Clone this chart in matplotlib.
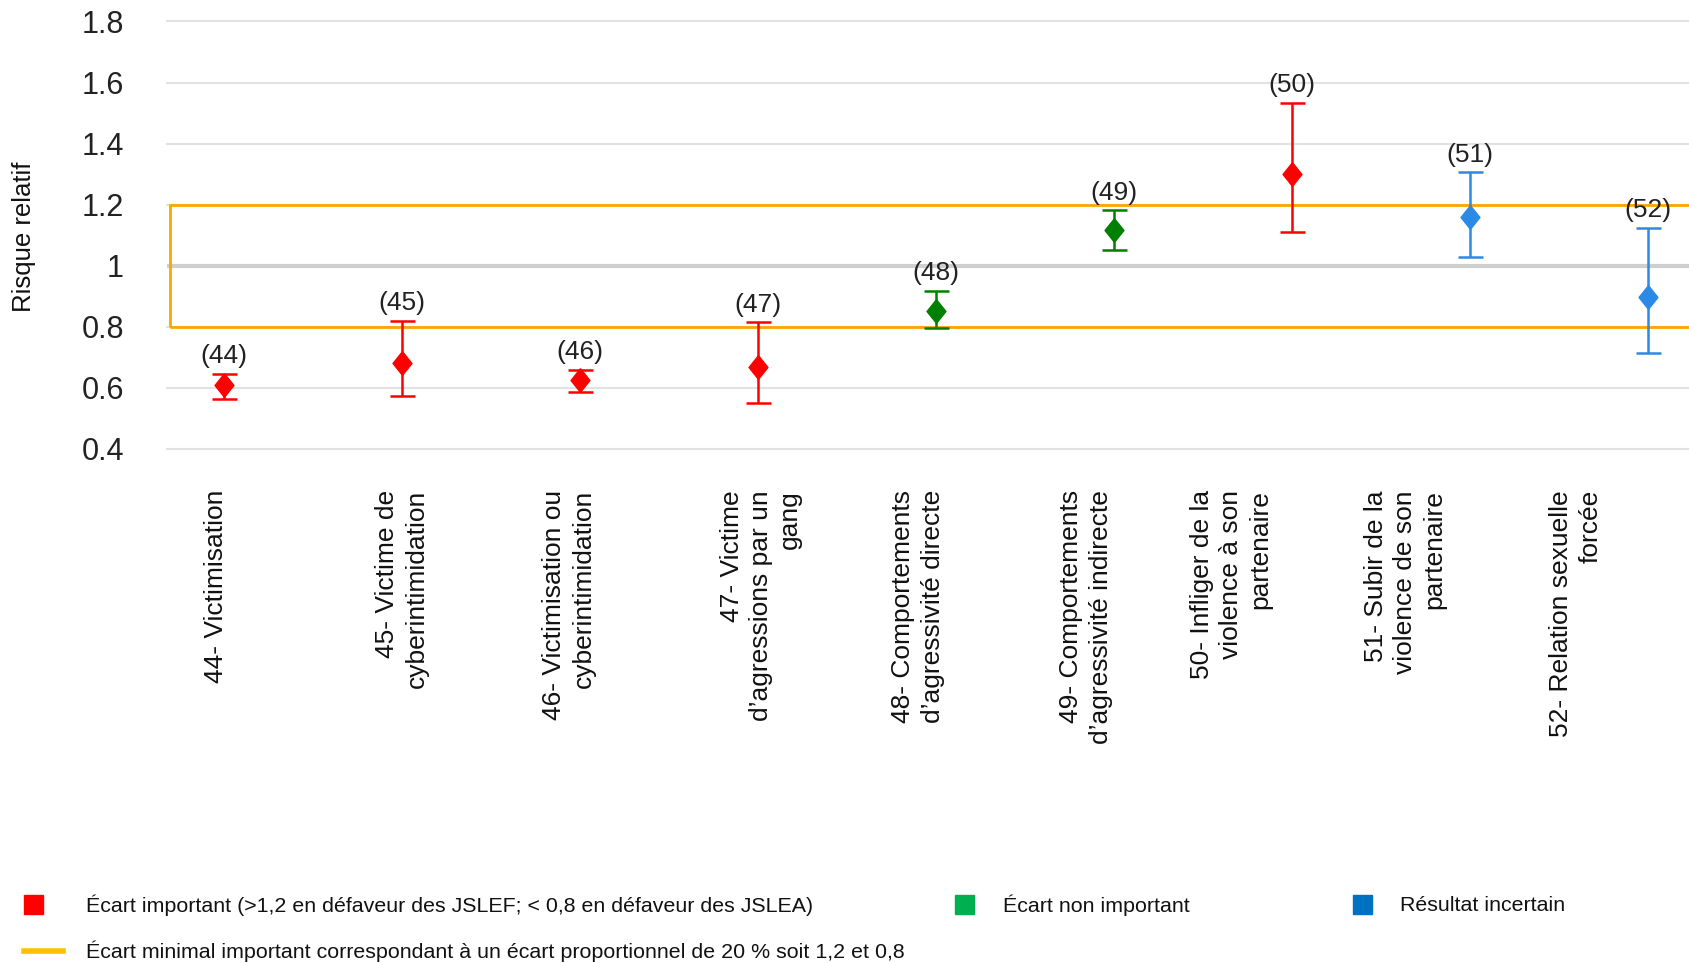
import numpy as np
import matplotlib
matplotlib.use("Agg")
import matplotlib.pyplot as plt
from matplotlib import font_manager
from matplotlib.patches import Rectangle

# Relative risk per indicator with 95 % confidence bounds
codes = ["44", "45", "46", "47", "48", "49", "50", "51", "52"]
labels = [
    "44- Victimisation",
    "45- Victime de\ncyberintimidation",
    "46- Victimisation ou\ncyberintimidation",
    "47- Victime\nd’agressions par un\ngang",
    "48- Comportements\nd’agressivité directe",
    "49- Comportements\nd’agressivité indirecte",
    "50- Infliger de la\nviolence à son\npartenaire",
    "51- Subir de la\nviolence de son\npartenaire",
    "52- Relation sexuelle\nforcée",
]
rr = [0.61, 0.68, 0.625, 0.67, 0.852, 1.117, 1.30, 1.16, 0.897]
ci_low = [0.565, 0.574, 0.588, 0.552, 0.795, 1.051, 1.11, 1.028, 0.714]
ci_high = [0.647, 0.82, 0.66, 0.815, 0.918, 1.182, 1.534, 1.306, 1.124]
status = ["important", "important", "important", "important", "non",
          "non", "important", "incertain", "incertain"]

yticks = [0.4, 0.6, 0.8, 1.0, 1.2, 1.4, 1.6, 1.8]
ytick_labels = ["0.4", "0.6", "0.8", "1", "1.2", "1.4", "1.6", "1.8"]
threshold_low, threshold_high = 0.8, 1.2

legend_items = [
    ("Écart important (>1,2 en défaveur des JSLEF; < 0,8 en défaveur des JSLEA)", "#ff0000"),
    ("Écart non important", "#00b050"),
    ("Résultat incertain", "#0070c0"),
]
legend_line = ("Écart minimal important correspondant à un écart proportionnel de 20 % soit 1,2 et 0,8", "#ffc000")

point_colors = {"important": "#ff0000", "non": "#008000", "incertain": "#2a8ae6"}

# fonts
available = {f.name for f in font_manager.fontManager.ttflist}
base_font = "Liberation Sans" if "Liberation Sans" in available else "DejaVu Sans"
narrow_font = "Liberation Sans Narrow" if "Liberation Sans Narrow" in available else base_font
plt.rcParams["font.family"] = base_font

W, H = 1690, 963
fig = plt.figure(figsize=(W / 100, H / 100), dpi=100)


def fx(x):
    return x / W


def fy(y):
    return 1 - y / H


# rounded-looking diamond, a bit taller than wide
diamond = [(0, 1), (0.8, 0), (0, -1), (-0.8, 0), (0, 1)]

# plot area: 0.4 at y=449 px, 1.8 at y=21.5 px
ax = fig.add_axes([fx(167), fy(449), 1 - fx(167), (449 - 21.5) / H])
ax.set_ylim(0.4, 1.8)
ax.set_xlim(-0.321, 8.235)

for t in yticks:
    if t == 1.0:
        ax.axhline(t, color="#cfcfcf", lw=3, zorder=1)
    else:
        ax.axhline(t, color="#e2e2e2", lw=1.5, zorder=1, clip_on=False)

ax.add_patch(Rectangle((-0.304, threshold_low), 20, threshold_high - threshold_low,
                       fill=False, edgecolor="#ffa500", lw=2, zorder=2))

x = np.arange(len(codes))
for i in range(len(codes)):
    c = point_colors[status[i]]
    ax.errorbar(x[i], rr[i], yerr=[[rr[i] - ci_low[i]], [ci_high[i] - rr[i]]],
                fmt="none", ecolor=c, capsize=9, elinewidth=1.8, capthick=1.8,
                zorder=3, clip_on=False)
    ax.plot(x[i], rr[i], marker=diamond, ms=17, color=c, ls="none", zorder=4,
            clip_on=False)
    ax.annotate(f"({codes[i]})", (x[i], ci_high[i]), xytext=(0, 4),
                textcoords="offset points", ha="center", va="bottom",
                fontsize=19, family=narrow_font, color="#222222")

ax.set_yticks(yticks)
ax.set_yticklabels(ytick_labels, fontsize=22, family=narrow_font, color="#222222")
ax.tick_params(axis="y", length=0, pad=31)
ax.set_xticks([])
for s in ax.spines.values():
    s.set_visible(False)

fig.text(fx(24), fy(237), "Risque relatif", rotation=90, ha="center", va="center",
         fontsize=18.5, color="#111111")

# category labels below the plot, rotated
label_x = [216, 402, 569, 761, 918, 1086, 1231, 1405, 1576]
for lx, lab in zip(label_x, labels):
    fig.text(fx(lx), fy(490), lab, rotation=90, ha="center", va="top",
             multialignment="right", fontsize=19, linespacing=1.28, color="#111111")

# legend
sq_x = [24, 955, 1353]
txt_x = [86, 1003, 1400]
for (txt, col), sx, tx in zip(legend_items, sq_x, txt_x):
    fig.patches.append(Rectangle((fx(sx), fy(914)), 19 / W, 19 / H, color=col,
                                 transform=fig.transFigure, figure=fig))
    fig.text(fx(tx), fy(905), txt, ha="left", va="center", fontsize=15.4,
             family=narrow_font, color="#111111")

fig.lines.append(plt.Line2D([fx(24), fx(63)], [fy(951), fy(951)], color=legend_line[1],
                            lw=4, transform=fig.transFigure, figure=fig))
fig.text(fx(86), fy(951), legend_line[0], ha="left", va="center", fontsize=15.4,
         family=narrow_font, color="#111111")

fig.savefig("out.png", dpi=100)
